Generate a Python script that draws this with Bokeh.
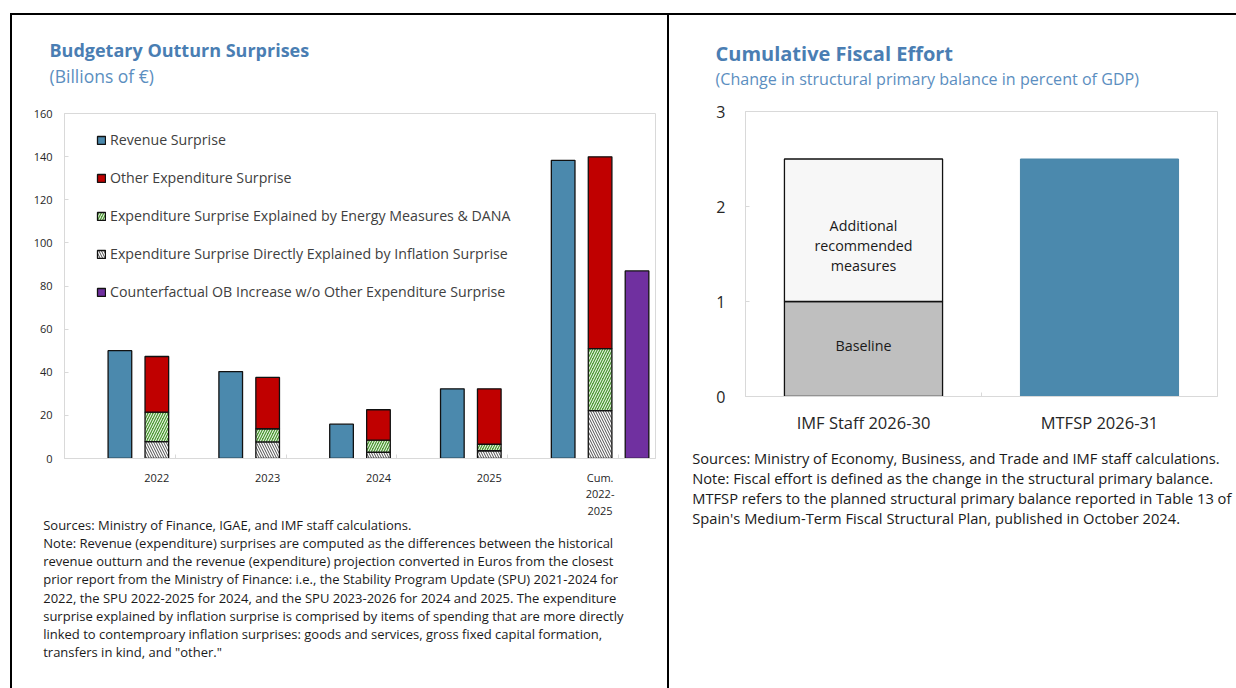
from bokeh.plotting import figure
from bokeh.layouts import row, column
from bokeh.models import (ColumnDataSource, FixedTicker, Label, Legend,
                          LegendItem, Range1d)
from bokeh.core.properties import value
from bokeh.embed import file_html
from bokeh.resources import INLINE

FONT = "Open Sans"
TITLE_BLUE = "#4A7EB3"
SUB_BLUE = "#5B8EC0"
BAR_BLUE = "#4B89AD"
RED = "#C00000"
GREEN = "#4E9A34"
PURPLE = "#7030A0"
FRAME_GREY = "#D9D9D9"
TEXT = "#262626"
NOTE = "#1A1A1A"

# ---------------- Budgetary outturn surprises (billions of euros) ----------------
periods = ["2022", "2023", "2024", "2025", "Cum.\n2022-\n2025"]
revenue_surprise = [50.0, 40.3, 15.9, 32.3, 138.3]
inflation_exp_surprise = [7.8, 7.7, 2.9, 3.6, 22.2]
energy_dana_exp_surprise = [13.7, 6.1, 5.6, 3.0, 28.8]
other_exp_surprise = [25.8, 23.8, 14.1, 25.7, 88.9]
counterfactual_period = "Cum.\n2022-\n2025"
counterfactual_ob_increase = 87.0
surprise_ticks = [0, 20, 40, 60, 80, 100, 120, 140, 160]

legend_labels = [
    "Revenue Surprise",
    "Other Expenditure Surprise",
    "Expenditure Surprise Explained by Energy Measures & DANA",
    "Expenditure Surprise Directly Explained by Inflation Surprise",
    "Counterfactual OB Increase w/o Other Expenditure Surprise",
]

left_title = "Budgetary Outturn Surprises"
left_subtitle = "(Billions of \u20ac)"
left_notes = [
    "Sources: Ministry of Finance, IGAE, and IMF staff calculations.",
    "Note: Revenue (expenditure) surprises are computed as the differences between the historical",
    "revenue outturn and the revenue (expenditure) projection converted in Euros from the closest",
    "prior report from the Ministry of Finance: i.e., the Stability Program Update (SPU) 2021-2024  for",
    "2022,  the SPU 2022-2025  for 2024, and the SPU 2023-2026  for 2024 and 2025. The expenditure",
    "surprise  explained by inflation surprise is comprised by items of spending that are more directly",
    "linked to contemproary inflation surprises: goods and services, gross fixed capital formation,",
    "transfers in kind, and \"other.\"",
]

# ---------------- Cumulative fiscal effort (percent of GDP) ----------------
effort_scenarios = ["IMF Staff 2026-30", "MTFSP 2026-31"]
baseline_effort = 1.0
additional_measures_effort = 1.5
mtfsp_effort = 2.5
effort_ticks = [0, 1, 2, 3]

right_title = "Cumulative Fiscal Effort"
right_subtitle = "(Change in structural primary balance in percent of GDP)"
right_notes = [
    "Sources: Ministry of Economy, Business, and Trade and IMF staff calculations.",
    "Note: Fiscal effort is defined as the change in the structural primary balance.",
    "MTFSP refers to the planned structural primary balance reported in Table 13 of",
    "Spain's Medium-Term Fiscal Structural Plan, published in October 2024.",
]


def text_panel(width, height, x, ys, lines, sizes, colors, styles):
    """A transparent strip of text: one pixel per unit, y growing downwards."""
    p = figure(width=width, height=height, x_range=Range1d(0, width),
               y_range=Range1d(height, 0), x_axis_type=None, y_axis_type=None,
               output_backend="svg", toolbar_location=None, min_border=0,
               frame_align=False)
    p.grid.visible = False
    p.outline_line_color = None
    p.background_fill_alpha = 0
    p.border_fill_alpha = 0
    src = ColumnDataSource(dict(x=[x] * len(lines), y=ys, text=lines, size=sizes,
                                color=colors, style=styles))
    p.text(x="x", y="y", text="text", source=src, text_font=value(FONT),
           text_font_size="size", text_color="color", text_font_style="style",
           text_baseline="middle", text_align="left")
    return p


def style_axes(p):
    p.grid.visible = False
    p.outline_line_color = FRAME_GREY
    p.outline_line_width = 1
    for ax in (p.xaxis[0], p.yaxis[0]):
        ax.axis_line_color = FRAME_GREY
        ax.major_tick_line_color = FRAME_GREY
        ax.minor_tick_line_color = FRAME_GREY
        ax.major_label_text_font = FONT
        ax.major_label_text_color = TEXT


# ---------------- left panel ----------------
# each period occupies three slots (revenue, expenditure, counterfactual),
# preceded by one empty slot
centres = [2.5 + 3 * i for i in range(len(periods))]
n_slots = centres[-1] + 1.5

infl_top = inflation_exp_surprise
energy_top = [a + b for a, b in zip(infl_top, energy_dana_exp_surprise)]
other_top = [a + b for a, b in zip(energy_top, other_exp_surprise)]

src = ColumnDataSource(dict(
    rev_x=[c - 1 for c in centres],
    exp_x=centres,
    revenue=revenue_surprise,
    infl_top=infl_top,
    energy_top=energy_top,
    other_top=other_top,
))

left = figure(width=655, height=417, x_range=Range1d(0, n_slots),
              y_range=Range1d(surprise_ticks[0], surprise_ticks[-1]),
              output_backend="svg", toolbar_location=None, frame_align=False,
              min_border_left=52, min_border_right=12,
              min_border_top=10, min_border_bottom=62)
style_axes(left)

BAR_W = 0.64
edge = dict(line_color="#111111", line_width=1.3)

r_rev = left.vbar(x="rev_x", bottom=0, top="revenue", width=BAR_W,
                  fill_color=BAR_BLUE, source=src, **edge)
r_infl = left.vbar(x="exp_x", bottom=0, top="infl_top", width=BAR_W,
                   fill_color="white", hatch_pattern="left_diagonal_line",
                   hatch_color="#4D4D4D", hatch_scale=5, hatch_weight=1,
                   source=src, **edge)
r_energy = left.vbar(x="exp_x", bottom="infl_top", top="energy_top", width=BAR_W,
                     fill_color=GREEN, hatch_pattern="right_diagonal_line",
                     hatch_color="white", hatch_scale=5, hatch_weight=1.0,
                     source=src, **edge)
r_other = left.vbar(x="exp_x", bottom="energy_top", top="other_top", width=BAR_W,
                    fill_color=RED, source=src, **edge)
cf_x = centres[periods.index(counterfactual_period)] + 1
r_cf = left.vbar(x=[cf_x], bottom=[0], top=[counterfactual_ob_increase], width=BAR_W,
                 fill_color=PURPLE, **edge)

legend = Legend(items=[
    LegendItem(label=legend_labels[0], renderers=[r_rev]),
    LegendItem(label=legend_labels[1], renderers=[r_other]),
    LegendItem(label=legend_labels[2], renderers=[r_energy]),
    LegendItem(label=legend_labels[3], renderers=[r_infl]),
    LegendItem(label=legend_labels[4], renderers=[r_cf]),
], location=(32, 157))
legend.glyph_width = 10
legend.glyph_height = 10
legend.label_height = 19
legend.spacing = 19
legend.padding = 0
legend.margin = 0
legend.label_standoff = 4
legend.border_line_alpha = 0
legend.background_fill_alpha = 0
legend.label_text_font = FONT
legend.label_text_font_size = "14.2px"
legend.label_text_color = "#404040"
left.add_layout(legend)

ly = left.yaxis[0]
ly.ticker = FixedTicker(ticks=surprise_ticks)
ly.major_tick_in = 4
ly.major_tick_out = 0
ly.major_label_standoff = 12
ly.major_label_text_font_size = "11px"

lx = left.xaxis[0]
lx.ticker = FixedTicker(ticks=centres, minor_ticks=[c + 0.5 for c in centres])
lx.major_label_overrides = {c: lab for c, lab in zip(centres, periods)}
lx.major_tick_in = 0
lx.major_tick_out = 0
lx.minor_tick_in = 4
lx.minor_tick_out = 0
lx.major_label_standoff = 11
lx.major_label_text_font_size = "11px"
lx.major_label_text_line_height = 1.1

left_head = text_panel(655, 88, 37, [34, 60], [left_title, left_subtitle],
                       ["18px", "17.5px"], [TITLE_BLUE, SUB_BLUE], ["bold", "normal"])
# the notes strip is transparent and slides up over the empty bottom of the chart
left_foot = text_panel(655, 180, 30.7, [16 + 18.25 * i for i in range(len(left_notes))],
                       left_notes, ["13px"] * len(left_notes), [NOTE] * len(left_notes),
                       ["normal"] * len(left_notes))
left_foot.margin = (-12, 0, 0, 0)

# ---------------- right panel ----------------
eff_x = [0.5 + i for i in range(len(effort_scenarios))]

right = figure(width=567, height=339, x_range=Range1d(0, len(effort_scenarios)),
               y_range=Range1d(effort_ticks[0], effort_ticks[-1]),
               output_backend="svg", toolbar_location=None, frame_align=False,
               min_border_left=76, min_border_right=19,
               min_border_top=10, min_border_bottom=44)
style_axes(right)

EFF_W = 0.67
right.vbar(x=[eff_x[0]], bottom=[0], top=[baseline_effort], width=EFF_W,
           fill_color="#BFBFBF", line_color="#111111", line_width=1.3)
right.vbar(x=[eff_x[0]], bottom=[baseline_effort],
           top=[baseline_effort + additional_measures_effort], width=EFF_W,
           fill_color="#F7F7F7", line_color="#111111", line_width=1.3)
right.vbar(x=[eff_x[1]], bottom=[0], top=[mtfsp_effort], width=EFF_W,
           fill_color=BAR_BLUE, line_color="#4A86A8", line_width=1)

add_mid = baseline_effort + additional_measures_effort / 2
for k, line in enumerate(["Additional", "recommended", "measures"]):
    right.add_layout(Label(x=eff_x[0], y=add_mid, text=line, y_offset=4.75 - 20 * k,
                           text_font=FONT, text_font_size="14.3px", text_color=NOTE,
                           text_align="center", text_baseline="middle"))
right.add_layout(Label(x=eff_x[0], y=baseline_effort / 2, text="Baseline", y_offset=4,
                       text_font=FONT, text_font_size="14.3px", text_color=NOTE,
                       text_align="center", text_baseline="middle"))

ry = right.yaxis[0]
ry.ticker = FixedTicker(ticks=effort_ticks)
ry.major_tick_in = 4
ry.major_tick_out = 0
ry.major_label_standoff = 20
ry.major_label_text_font_size = "16px"

rx = right.xaxis[0]
rx.ticker = FixedTicker(ticks=eff_x, minor_ticks=[x + 0.5 for x in eff_x[:-1]])
rx.major_label_overrides = {x: lab for x, lab in zip(eff_x, effort_scenarios)}
rx.major_tick_in = 0
rx.major_tick_out = 0
rx.minor_tick_in = 4
rx.minor_tick_out = 0
rx.major_label_standoff = 14
rx.major_label_text_font_size = "16.5px"

right_head = text_panel(567, 86, 46, [37.7, 63], [right_title, right_subtitle],
                        ["20px", "16.1px"], [TITLE_BLUE, SUB_BLUE], ["bold", "normal"])
right_foot = text_panel(567, 248, 22.7, [17 + 20 * i for i in range(len(right_notes))],
                        right_notes, ["14.7px"] * len(right_notes),
                        [NOTE] * len(right_notes), ["normal"] * len(right_notes))

# ---------------- page frame ----------------
left_col = column(left_head, left, left_foot)
right_col = column(right_head, right, right_foot)
for col in (left_col, right_col):
    col.margin = (2, 0, 0, 2)
    col.styles = {"background-color": "#FFFFFF"}
page = row(left_col, right_col)
page.margin = (13, 0, 0, 10)
page.styles = {"background-color": "#000000"}

open("out.html", "w").write(file_html(page, INLINE))
